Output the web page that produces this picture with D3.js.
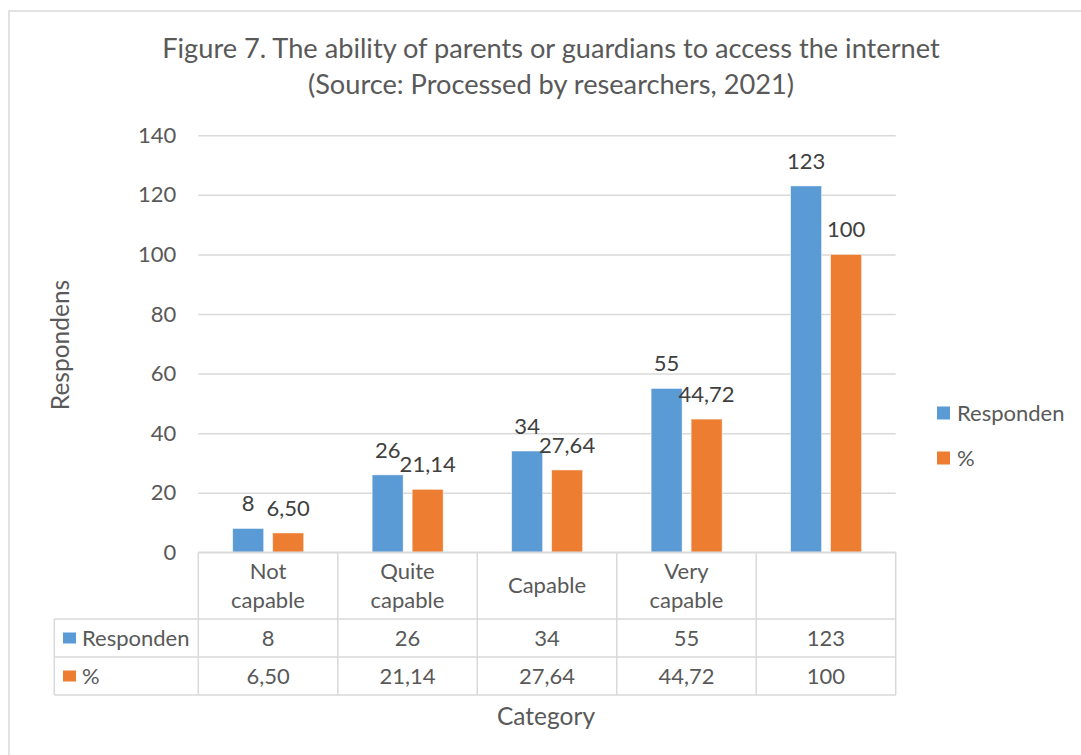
<!DOCTYPE html>
<html>
<head>
<meta charset="utf-8">
<script src="https://cdn.jsdelivr.net/npm/d3@7"></script>
<style>
  html, body { margin: 0; padding: 0; background: #fff; }
  svg { display: block; font-family: Lato, "Open Sans", sans-serif; }
</style>
</head>
<body>
<svg id="chart" width="1081" height="755"></svg>
<script>
// Chart data
const categories = ["Not capable", "Quite capable", "Capable", "Very capable", ""];
const seriesNames = ["Responden", "%"];
const responden = [8, 26, 34, 55, 123];
const percent = [6.50, 21.14, 27.64, 44.72, 100];
const yTicks = [0, 20, 40, 60, 80, 100, 120, 140];
const titleLines = ["Figure 7. The ability of parents or guardians to access the internet",
                    "(Source: Processed by researchers, 2021)"];
const yAxisTitle = "Respondens";
const xAxisTitle = "Category";

const colors = { "Responden": "#5B9BD5", "%": "#ED7D31" };
const textColor = "#595959";
const lineColor = "#d9d9d9";
const fs = 22;

// Decimal comma formatting; whole numbers stay plain
const fmt = v => (v % 1 === 0 ? String(v) : v.toFixed(2).replace(".", ","));

const rows = seriesNames.map((name, i) => ({
  name,
  values: i === 0 ? responden : percent
}));

const svg = d3.select("#chart");

// Outer chart frame
svg.append("rect")
  .attr("x", 9).attr("y", 11)
  .attr("width", 1090).attr("height", 760)
  .attr("fill", "none").attr("stroke", lineColor).attr("stroke-width", 1.5);

// Title
svg.append("g").selectAll("text").data(titleLines).join("text")
  .attr("x", 551).attr("y", (d, i) => 58 + i * 36)
  .attr("text-anchor", "middle")
  .attr("fill", textColor)
  .attr("font-size", 27.2)
  .text(d => d);

// Scales
const plot = { left: 198.3, right: 895.7, top: 135.3, bottom: 552.3 };
const x0 = d3.scaleBand().domain(d3.range(categories.length)).range([plot.left, plot.right]);
const catW = x0.bandwidth();
const x1 = d3.scaleBand().domain(seriesNames)
  .range([catW * 0.2465, catW * 0.7555]).paddingInner(0.225);
const y = d3.scaleLinear().domain([0, 140]).range([plot.bottom, plot.top]);

// Gridlines and y tick labels
const yAxis = d3.axisLeft(y).tickValues(yTicks).tickSize(-(plot.right - plot.left)).tickPadding(22);
const gy = svg.append("g").attr("transform", `translate(${plot.left},0)`).call(yAxis);
gy.select(".domain").remove();
gy.selectAll(".tick line").attr("stroke", lineColor).attr("stroke-width", 1.5);
gy.selectAll(".tick text")
  .attr("fill", textColor).attr("font-size", fs)
  .attr("font-family", "Lato, 'Open Sans', sans-serif");

// Bars
const groups = svg.append("g").selectAll("g").data(categories).join("g")
  .attr("transform", (d, i) => `translate(${x0(i)},0)`);

groups.selectAll("rect")
  .data((d, i) => rows.map(r => ({ name: r.name, value: r.values[i] })))
  .join("rect")
  .attr("x", d => x1(d.name))
  .attr("width", x1.bandwidth())
  .attr("y", d => y(d.value))
  .attr("height", d => y(0) - y(d.value))
  .attr("fill", d => colors[d.name])
  .attr("stroke", "#ffffff").attr("stroke-opacity", 0.6).attr("stroke-width", 0.8);

// Value labels above bars
groups.selectAll("text.val")
  .data((d, i) => rows.map(r => ({ name: r.name, value: r.values[i] })))
  .join("text")
  .attr("class", "val")
  .attr("x", d => x1(d.name) + x1.bandwidth() / 2)
  .attr("y", d => y(d.value) - 17)
  .attr("text-anchor", "middle")
  .attr("fill", "#404040")
  .attr("font-size", fs)
  .text(d => fmt(d.value));

// Data table below the plot
const table = { legendLeft: 54.3, headBottom: 619, rowH: 38 };
const tg = svg.append("g").attr("stroke", lineColor).attr("stroke-width", 1.5);
// vertical lines for category cells
x0.domain().forEach(i => {
  tg.append("line").attr("x1", x0(i)).attr("x2", x0(i))
    .attr("y1", plot.bottom).attr("y2", table.headBottom + 2 * table.rowH);
});
tg.append("line").attr("x1", plot.right).attr("x2", plot.right)
  .attr("y1", plot.bottom).attr("y2", table.headBottom + 2 * table.rowH);
tg.append("line").attr("x1", table.legendLeft).attr("x2", table.legendLeft)
  .attr("y1", table.headBottom).attr("y2", table.headBottom + 2 * table.rowH);
// horizontal lines
tg.append("line").attr("x1", plot.left).attr("x2", plot.right)
  .attr("y1", plot.bottom).attr("y2", plot.bottom);
[0, 1, 2].forEach(k => {
  tg.append("line").attr("x1", table.legendLeft).attr("x2", plot.right)
    .attr("y1", table.headBottom + k * table.rowH).attr("y2", table.headBottom + k * table.rowH);
});

// Category headers (wrapped by word)
const headMid = (plot.bottom + table.headBottom) / 2;
categories.forEach((c, i) => {
  const words = c ? c.split(" ") : [];
  const lh = 29;
  const t = svg.append("text")
    .attr("text-anchor", "middle").attr("fill", textColor).attr("font-size", fs);
  words.forEach((w, k) => {
    t.append("tspan")
      .attr("x", x0(i) + catW / 2)
      .attr("y", headMid + 7.5 + (k - (words.length - 1) / 2) * lh)
      .text(w);
  });
});

// Table rows: legend key, series name, values
rows.forEach((r, k) => {
  const mid = table.headBottom + (k + 0.5) * table.rowH;
  svg.append("rect")
    .attr("x", 63).attr("y", mid - 5.5).attr("width", 13).attr("height", 11)
    .attr("fill", colors[r.name]);
  svg.append("text")
    .attr("x", 82).attr("y", mid + 7.5)
    .attr("fill", textColor).attr("font-size", fs)
    .text(r.name);
  r.values.forEach((v, i) => {
    svg.append("text")
      .attr("x", x0(i) + catW / 2).attr("y", mid + 7.5)
      .attr("text-anchor", "middle")
      .attr("fill", textColor).attr("font-size", fs)
      .text(fmt(v));
  });
});

// Axis titles
svg.append("text")
  .attr("transform", "translate(69,345) rotate(-90)")
  .attr("text-anchor", "middle").attr("fill", textColor).attr("font-size", 24.5)
  .text(yAxisTitle);
svg.append("text")
  .attr("x", 546).attr("y", 725)
  .attr("text-anchor", "middle").attr("fill", textColor).attr("font-size", 24.5)
  .text(xAxisTitle);

// Legend on the right
const legend = svg.append("g").selectAll("g").data(seriesNames).join("g")
  .attr("transform", (d, i) => `translate(937,${413 + i * 45})`);
legend.append("rect")
  .attr("x", 0).attr("y", -6.5).attr("width", 13).attr("height", 13)
  .attr("fill", d => colors[d]);
legend.append("text")
  .attr("x", 20).attr("y", 7.5)
  .attr("fill", textColor).attr("font-size", fs)
  .text(d => d);
</script>
</body>
</html>
